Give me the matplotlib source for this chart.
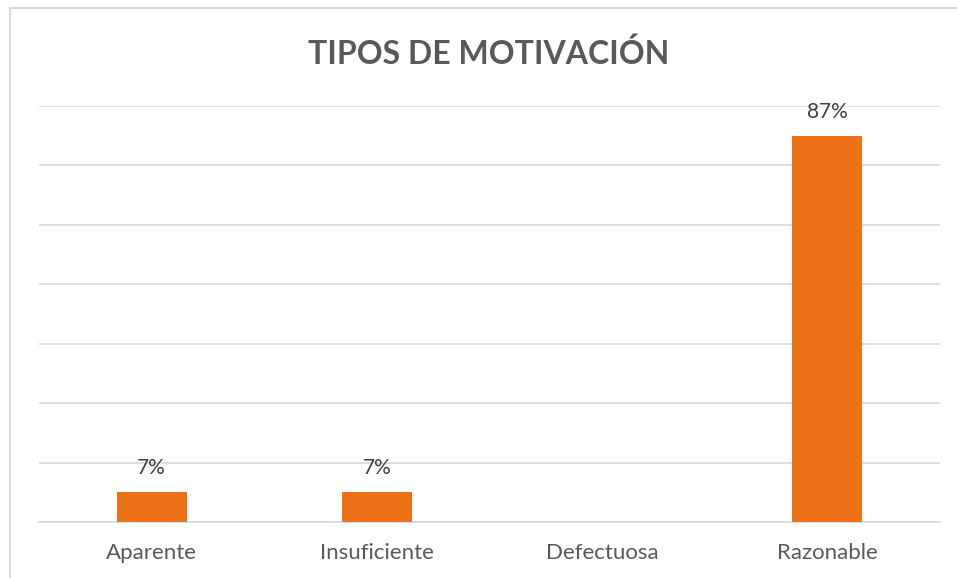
import matplotlib.pyplot as plt
from matplotlib.patches import Rectangle

categorias = ["Aparente", "Insuficiente", "Defectuosa", "Razonable"]
casos = [1, 1, 0, 13]

total = sum(casos)
etiquetas = ["{}%".format(round(c / total * 100)) if c > 0 else "" for c in casos]

plt.rcParams['font.family'] = ['Lato', 'DejaVu Sans']
gris = '#595959'

fig = plt.figure(figsize=(9.57, 5.78), dpi=100)
ax = fig.add_axes([39 / 957, 1 - 522 / 578, 901 / 957, 416 / 578])

x = range(len(categorias))
barras = ax.bar(x, casos, width=0.31, color='#EC7117', zorder=3)
ax.bar_label(barras, labels=etiquetas, padding=10, fontsize=15, color='#404040')

ax.set_xlim(-0.5, len(categorias) - 0.5)
ax.set_ylim(0, 14)
ax.set_yticks(range(0, 15, 2))
ax.set_yticklabels([])
ax.tick_params(axis='y', length=0)
ax.tick_params(axis='x', length=0, pad=15, labelsize=16, labelcolor=gris)
ax.set_xticks(list(x))
ax.set_xticklabels(categorias)
ax.grid(axis='y', color='#d9d9d9', linewidth=1.2, zorder=0)
for lado in ['top', 'right', 'left']:
    ax.spines[lado].set_visible(False)
ax.spines['bottom'].set_color('#d9d9d9')
ax.spines['bottom'].set_linewidth(1.2)

fig.text(0.511, 1 - 54 / 578, "TIPOS DE MOTIVACIÓN", ha='center', va='center',
         fontsize=23, fontweight='bold', color=gris)

# marco del grafico
fig.patches.append(Rectangle((9.5 / 957, -0.1), 1.2, 1 - 8.5 / 578 + 0.1,
                             transform=fig.transFigure, fill=False,
                             edgecolor='#d9d9d9', linewidth=1.5))

fig.savefig("out.png", dpi=100)
